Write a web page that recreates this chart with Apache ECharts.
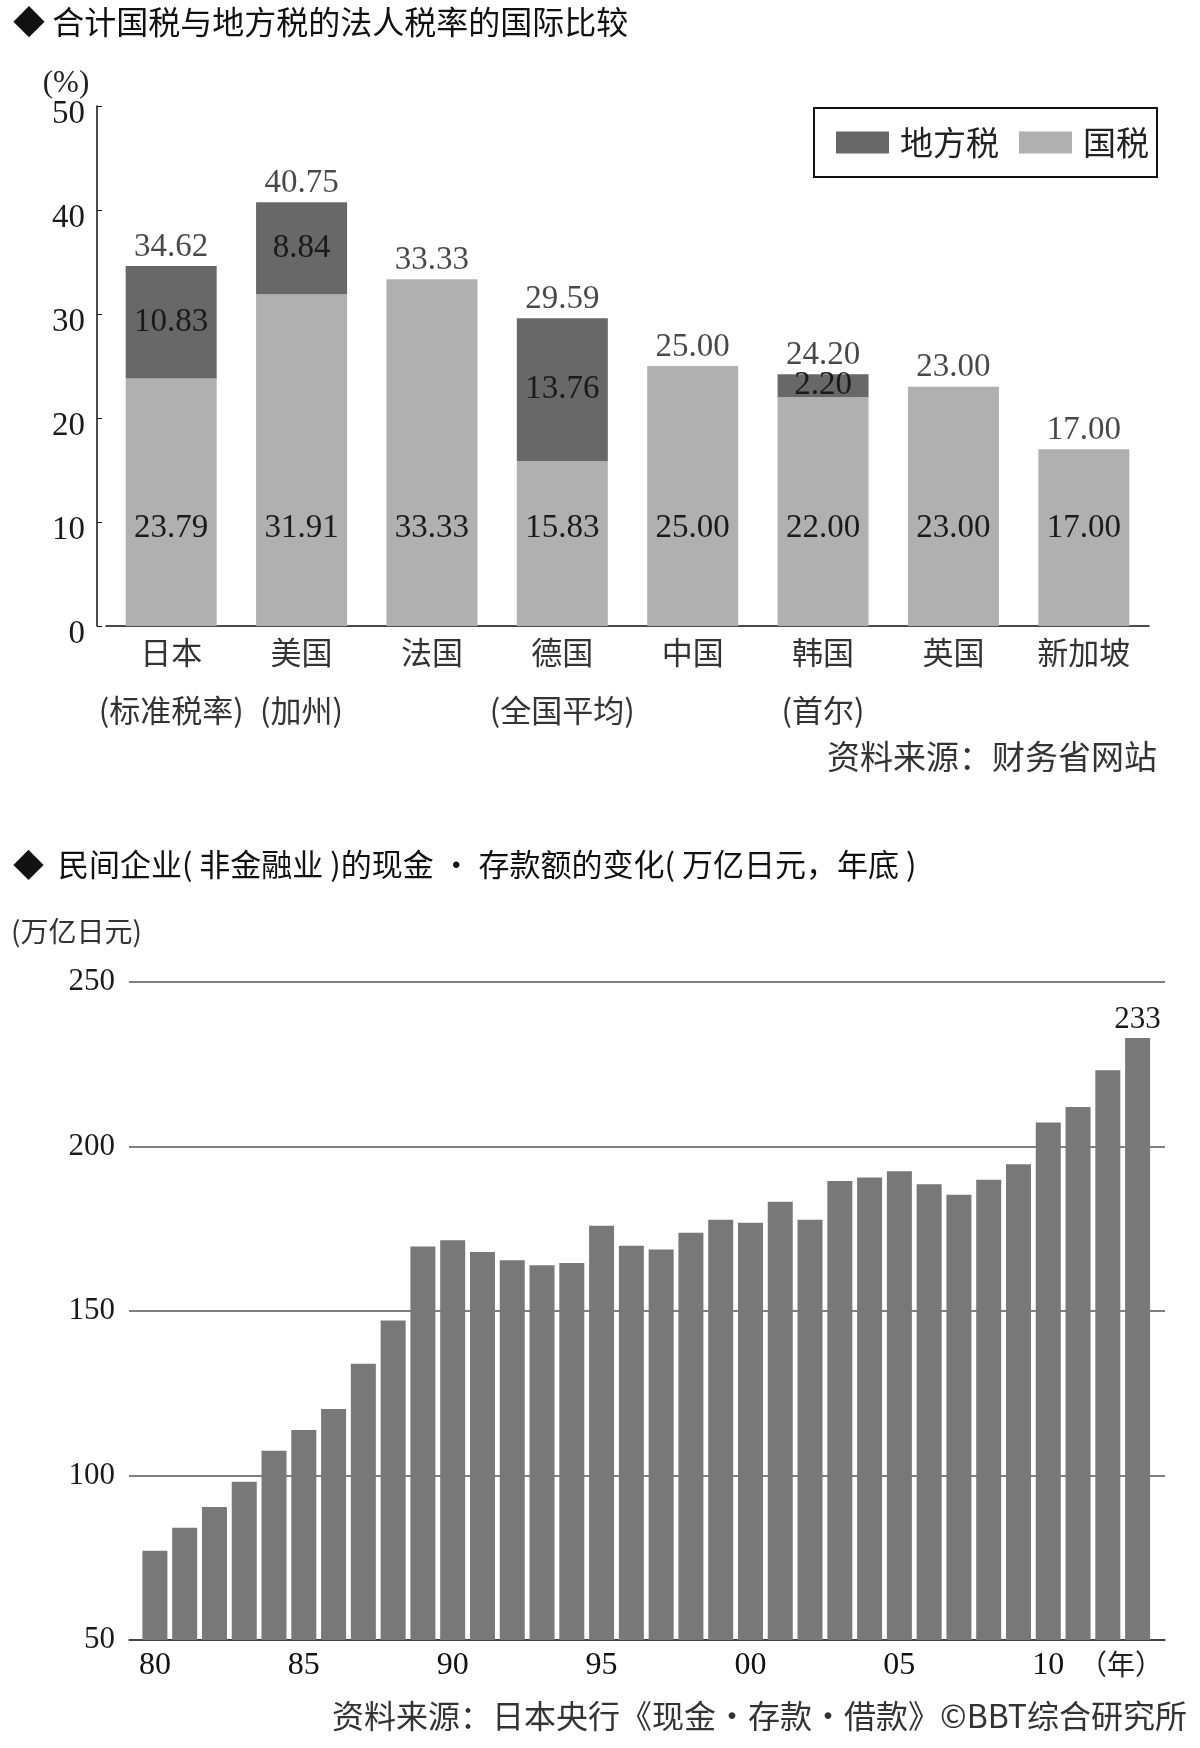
<!DOCTYPE html>
<html><head><meta charset="utf-8">
<script src="https://cdn.jsdelivr.net/npm/echarts@6/dist/echarts.min.js"></script>
<style>html,body{margin:0;padding:0;background:#fff;}#c{width:1200px;height:1748px;}</style>
</head><body><div id="c"></div>
<script>
// ---- Chart 1 data ----
const taxCategories = ['日本\n(标准税率)', '美国\n(加州)', '法国', '德国\n(全国平均)', '中国', '韩国\n(首尔)', '英国', '新加坡'];
const nationalTax = [23.79, 31.91, 33.33, 15.83, 25.00, 22.00, 23.00, 17.00];
const localTax = [10.83, 8.84, 0, 13.76, 0, 2.20, 0, 0];
const totalTax = [34.62, 40.75, 33.33, 29.59, 25.00, 24.20, 23.00, 17.00];
const taxTicks = [0, 10, 20, 30, 40, 50];

// ---- Chart 2 data ----
const years = [1980,1981,1982,1983,1984,1985,1986,1987,1988,1989,1990,1991,1992,1993,1994,1995,1996,1997,1998,1999,2000,2001,2002,2003,2004,2005,2006,2007,2008,2009,2010,2011,2012,2013];
const cashDeposits = [77.1,84.1,90.4,98.1,107.5,113.8,120.2,134.0,147.1,169.6,171.5,167.9,165.4,163.9,164.6,175.9,169.8,168.7,173.8,177.7,176.8,183.2,177.7,189.5,190.6,192.5,188.5,185.3,189.9,194.6,207.3,212.0,223.2,233];
const cashTickYears = [1980, 1985, 1990, 1995, 2000, 2005, 2010];
const cashTickLabels = ['80', '85', '90', '95', '00', '05', '10'];
const cashYTicks = [50, 100, 150, 200, 250];

const SERIF = 'Liberation Serif';
const CJK = 'Noto Sans CJK SC';

const chart = echarts.init(document.getElementById('c'), null, {renderer: 'canvas'});

const cashData = years.map((y, i) => {
  const item = {value: [y, cashDeposits[i]]};
  if (i === years.length - 1) {
    item.label = {show: true, position: 'top', distance: 3, fontFamily: SERIF, fontSize: 31, color: '#1a1a1a',
      formatter: p => String(Math.round(p.value[1]))};
  }
  return item;
});

chart.setOption({
  animation: false,
  backgroundColor: '#fff',
  grid: [
    {left: 106, top: 106, width: 1043, height: 520},
    {left: 129, top: 982, width: 1036, height: 658}
  ],
  legend: {
    data: ['地方税', '国税'],
    left: 814, top: 108,
    orient: 'horizontal',
    itemWidth: 53, itemHeight: 22, itemGap: 20,
    icon: 'rect',
    padding: [18, 8, 18, 22],
    borderColor: '#111', borderWidth: 2,
    textStyle: {fontFamily: CJK, fontSize: 33, color: '#222', padding: [0, 0, 0, 6]}
  },
  xAxis: [
    {
      type: 'category', gridIndex: 0, data: taxCategories,
      axisLine: {lineStyle: {color: '#111', width: 1.5}},
      axisTick: {show: false},
      axisLabel: {interval: 0, fontFamily: CJK, fontSize: 31, color: '#333', lineHeight: 58, margin: -3}
    },
    {
      type: 'value', gridIndex: 1, min: 1979.13, max: 2013.92,
      splitLine: {show: false},
      axisLine: {show: true, onZero: false, lineStyle: {color: '#333', width: 1.5}},
      axisTick: {show: false},
      axisLabel: {
        customValues: cashTickYears,
        fontFamily: SERIF, fontSize: 32, color: '#111', margin: 10,
        formatter: v => cashTickLabels[cashTickYears.indexOf(Math.round(v))] || ''
      }
    }
  ],
  yAxis: [
    {
      type: 'value', gridIndex: 0, min: taxTicks[0], max: taxTicks[taxTicks.length - 1], interval: 10,
      offset: 9,
      axisLine: {show: true, lineStyle: {color: '#111', width: 1.5}},
      axisTick: {show: true, inside: true, length: 5, lineStyle: {color: '#111'}},
      splitLine: {show: false},
      axisLabel: {fontFamily: SERIF, fontSize: 33, color: '#1a1a1a', margin: 12, verticalAlign: 'top', lineHeight: 16}
    },
    {
      type: 'value', gridIndex: 1, min: cashYTicks[0], max: cashYTicks[cashYTicks.length - 1], interval: 50,
      axisLine: {show: false},
      axisTick: {show: false},
      splitLine: {show: true, lineStyle: {color: '#555', width: 1.5}},
      axisLabel: {fontFamily: SERIF, fontSize: 31, color: '#1a1a1a', margin: 14}
    }
  ],
  series: [
    {
      name: '国税', type: 'bar', stack: 'tax', xAxisIndex: 0, yAxisIndex: 0,
      data: nationalTax, barWidth: 91,
      itemStyle: {color: '#b0b0b0'},
      label: {show: true, position: 'insideBottom', distance: 81, fontFamily: SERIF, fontSize: 33, color: '#1a1a1a',
        formatter: p => p.value.toFixed(2)}
    },
    {
      name: '地方税', type: 'bar', stack: 'tax', xAxisIndex: 0, yAxisIndex: 0,
      data: localTax, barWidth: 91,
      itemStyle: {color: '#686868'},
      label: {show: true, position: 'inside', fontFamily: SERIF, fontSize: 33, color: '#1a1a1a',
        formatter: p => p.value ? p.value.toFixed(2) : ''}
    },
    {
      name: '合计', type: 'scatter', xAxisIndex: 0, yAxisIndex: 0,
      data: totalTax, symbolSize: 1, itemStyle: {color: 'rgba(0,0,0,0)'},
      label: {show: true, position: 'top', distance: 2, fontFamily: SERIF, fontSize: 33, color: '#1a1a1a',
        formatter: p => p.value.toFixed(2)},
      z: 5
    },
    {
      name: '现金・存款额', type: 'bar', xAxisIndex: 1, yAxisIndex: 1,
      data: cashData, barWidth: 25,
      itemStyle: {color: '#787878'}
    }
  ],
  graphic: [
    {type: 'text', x: 13, y: 22, style: {text: '◆ 合计国税与地方税的法人税率的国际比较', fontFamily: CJK, fontSize: 32, fontWeight: 'normal', fill: '#111', verticalAlign: 'middle', align: 'left'}},
    {type: 'text', x: 66, y: 84, style: {text: '(%)', fontFamily: SERIF, fontSize: 31, fill: '#222', verticalAlign: 'middle', align: 'center'}},
    {type: 'text', x: 1157, y: 756, style: {text: '资料来源：财务省网站', fontFamily: CJK, fontSize: 33, fill: '#333', verticalAlign: 'middle', align: 'right'}},
    {type: 'text', x: 13, y: 864, style: {text: '◆  民间企业( 非金融业 )的现金 · 存款额的变化( 万亿日元，年底 )', fontFamily: CJK, fontSize: 31, fontWeight: 'normal', fill: '#111', verticalAlign: 'middle', align: 'left'}},
    {type: 'text', x: 11, y: 931, style: {text: '(万亿日元)', fontFamily: CJK, fontSize: 28, fill: '#333', verticalAlign: 'middle', align: 'left'}},
    {type: 'text', x: 1163, y: 1664, style: {text: '（年）', fontFamily: CJK, fontSize: 28, fill: '#222', verticalAlign: 'middle', align: 'right'}},
    {type: 'text', x: 1187, y: 1716, style: {text: '资料来源：日本央行《现金•存款•借款》©BBT综合研究所', fontFamily: CJK, fontSize: 32, fill: '#333', verticalAlign: 'middle', align: 'right'}}
  ]
});
</script></body></html>
